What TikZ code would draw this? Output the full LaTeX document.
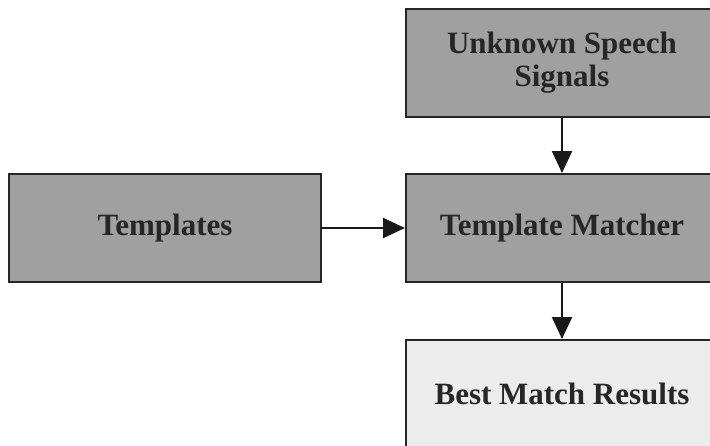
\documentclass[tikz,border=0pt]{standalone}
\usepackage{fontspec}
\setmainfont{Liberation Serif}
\usetikzlibrary{arrows.meta}
\begin{document}
\begin{tikzpicture}[x=1pt, y=-1pt, line width=1.6pt,
    block/.style={
        rectangle,
        draw=black!85,
        line width=2pt,
        minimum width=312pt,
        minimum height=108pt,
        align=center,
        font=\fontsize{31}{33}\selectfont\bfseries,
        text=black!85
    },
    flow/.style={-{Triangle[length=22pt,width=20pt]}, draw=black!90, line width=2.4pt}]
    % Define colors
    \definecolor{darkbox}{RGB}{160,160,160}
    \definecolor{lightbox}{RGB}{236,236,236}

    \useasboundingbox (0,0) rectangle (710,445);
    \clip (0,0) rectangle (710,445);

    \node[block, fill=darkbox] (unknown) at (562, 63) {Unknown Speech\\Signals};
    \node[block, fill=darkbox] (matcher) at (562, 228) {Template Matcher};
    \node[block, fill=darkbox] (templates) at (165, 228) {Templates};
    \node[block, fill=lightbox] (results) at (562, 394) {Best Match Results};

    \draw[flow] (unknown) -- (matcher);
    \draw[flow] (templates) -- (matcher);
    \draw[flow] (matcher) -- (results);
\end{tikzpicture}
\end{document}
